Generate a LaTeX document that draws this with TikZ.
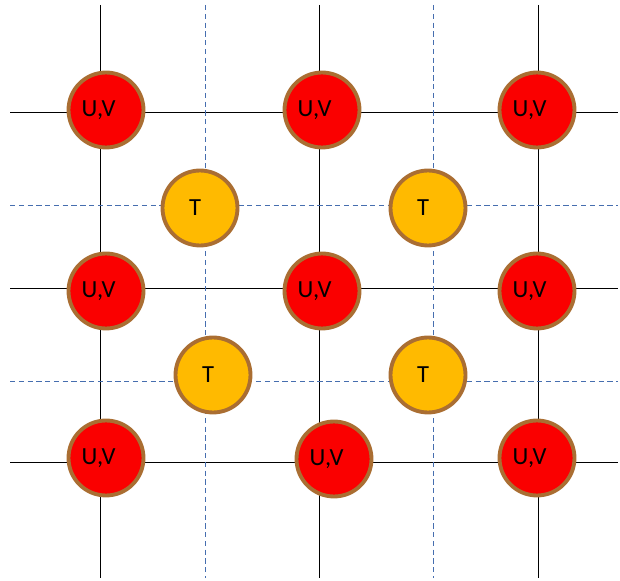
\documentclass[tikz,border=0pt]{standalone}
\usepackage{fontspec}
\setmainfont{Carlito}
\usepackage{tikz}
\usetikzlibrary{positioning}

\definecolor{rimbrown}{RGB}{170,110,50}
\definecolor{uvred}{RGB}{250,0,0}
\definecolor{tgold}{RGB}{255,186,0}
\definecolor{dashblue}{RGB}{70,110,175}

\begin{document}
\begin{tikzpicture}[
  x=0.02cm, y=-0.02cm,
  gridline/.style={black, line width=0.5pt},
  halfline/.style={dashblue, line width=0.55pt, dash pattern=on 3pt off 2pt},
  uv/.style={circle, draw=rimbrown, fill=uvred, line width=2.2pt, minimum size=1.5cm,
    label={[xshift=-0.15cm, font=\fontsize{14}{16}\selectfont]center:U,V}},
  tsite/.style={circle, draw=rimbrown, fill=tgold, line width=2.2pt, minimum size=1.5cm,
    label={[xshift=-0.1cm, font=\fontsize{14}{16}\selectfont]center:T}}
]
\useasboundingbox (0,0) rectangle (620,581);

% grid
\foreach \gx in {100,319,538}
  \draw[gridline] (\gx,5) -- (\gx,578);
\foreach \gy in {112,288,462}
  \draw[gridline] (10,\gy) -- (618,\gy);
\foreach \gx in {205,433}
  \draw[halfline] (\gx,5) -- (\gx,578);
\foreach \gy in {205,381}
  \draw[halfline] (10,\gy) -- (618,\gy);

% U,V sites
\node[uv] (uv11) at (106,110) {};
\node[uv] (uv12) at (322,110) {};
\node[uv] (uv13) at (537,110) {};
\node[uv] (uv21) at (106,291) {};
\node[uv] (uv22) at (322,291) {};
\node[uv] (uv23) at (537,291) {};
\node[uv] (uv31) at (106,458) {};
\node[uv] (uv32) at (334,459) {};
\node[uv] (uv33) at (537,458) {};

% T sites
\node[tsite] (t11) at (200,208) {};
\node[tsite] (t12) at (428,208) {};
\node[tsite] (t21) at (213,375) {};
\node[tsite] (t22) at (428,375) {};
\end{tikzpicture}
\end{document}
